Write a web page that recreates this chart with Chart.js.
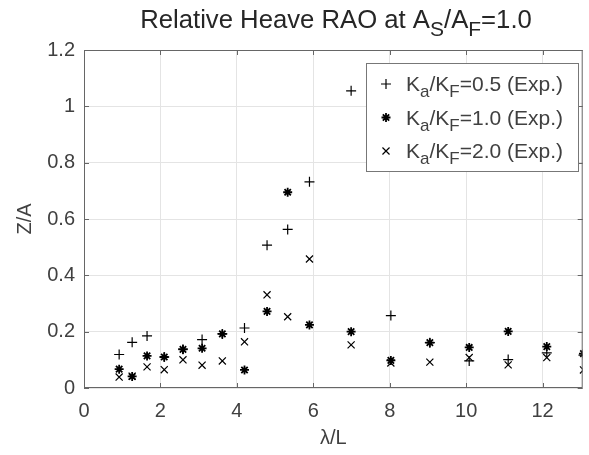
<!DOCTYPE html>
<html>
<head>
<meta charset="utf-8">
<script src="https://cdn.jsdelivr.net/npm/chart.js@4/dist/chart.umd.min.js"></script>
<style>
  html, body { margin: 0; padding: 0; background: #fff; }
  #wrap { width: 589px; height: 455px; }
</style>
</head>
<body>
<div id="wrap"><canvas id="rao" width="589" height="455"></canvas></div>
<script>
// lambda/L for each test point
var waveLength = [0.92, 1.26, 1.65, 2.10, 2.59, 3.09, 3.62, 4.20, 4.79, 5.33, 5.90, 6.99, 8.03, 9.05, 10.08, 11.10, 12.11, 13.07];
// Z/A, Ka/KF = 0.5
var raoK05 = [0.119, 0.162, 0.185, 0.110, 0.138, 0.172, 0.192, 0.213, 0.507, 0.563, 0.732, 1.055, 0.257, 0.161, 0.096, 0.101, 0.125, 0.117];
// Z/A, Ka/KF = 1.0
var raoK10 = [0.067, 0.041, 0.114, 0.110, 0.137, 0.141, 0.192, 0.064, 0.272, 0.695, 0.224, 0.200, 0.098, 0.161, 0.144, 0.201, 0.147, 0.122];
// Z/A, Ka/KF = 2.0
var raoK20 = [0.039, 0.042, 0.075, 0.065, 0.100, 0.081, 0.096, 0.164, 0.331, 0.253, 0.458, 0.153, 0.089, 0.092, 0.108, 0.082, 0.108, 0.064];

var seriesNames = ['0.5', '1.0', '2.0'];
var xMax = 13.05;
var yMax = 1.2;

var FONT = '"Liberation Sans", Arial, sans-serif';
var TEXT = '#404040';

function points(ys) {
	return ys.map(function (y, i) {
		return { x: waveLength[i], y: y };
	});
}

// draws text with subscripts, parts = [[text, isSub], ...]
function richText(ctx, parts, x, y, size, align) {
	var subSize = Math.round(size * 0.8);
	var total = 0;
	parts.forEach(function (p) {
		ctx.font = (p[1] ? subSize : size) + 'px ' + FONT;
		total += ctx.measureText(p[0]).width;
	});
	var cx = align === 'center' ? x - total / 2 : x;
	ctx.textAlign = 'left';
	ctx.textBaseline = 'alphabetic';
	parts.forEach(function (p) {
		ctx.font = (p[1] ? subSize : size) + 'px ' + FONT;
		ctx.fillText(p[0], cx, p[1] ? y + size * 0.3 : y);
		cx += ctx.measureText(p[0]).width;
	});
}

var markerStyles = [
	{ style: 'cross', radius: 5, width: 1.2 },
	{ style: 'star', radius: 4.5, width: 1.8 },
	{ style: 'crossRot', radius: 5, width: 1.2 }
];

var framePlugin = {
	id: 'frame',
	afterDatasetsDraw: function (chart) {
		var ctx = chart.ctx;
		var a = chart.chartArea;
		var xs = chart.scales.x, ys = chart.scales.y;
		ctx.save();
		ctx.strokeStyle = '#666';
		ctx.lineWidth = 1;
		ctx.beginPath();
		// inward tick marks on all four sides
		xs.ticks.forEach(function (t) {
			var px = Math.round(xs.getPixelForValue(t.value)) + 0.5;
			ctx.moveTo(px, a.bottom); ctx.lineTo(px, a.bottom - 5);
			ctx.moveTo(px, a.top); ctx.lineTo(px, a.top + 5);
		});
		ys.ticks.forEach(function (t) {
			var py = Math.round(ys.getPixelForValue(t.value)) + 0.5;
			ctx.moveTo(a.left, py); ctx.lineTo(a.left + 5, py);
			ctx.moveTo(a.right, py); ctx.lineTo(a.right - 5, py);
		});
		ctx.stroke();
		ctx.strokeRect(a.left + 0.5, a.top + 0.5, a.right - a.left - 1, a.bottom - a.top - 1);
		ctx.restore();
	},
	afterDraw: function (chart) {
		var ctx = chart.ctx;
		ctx.save();
		// title
		ctx.fillStyle = '#262626';
		richText(ctx, [['Relative Heave RAO at A', false], ['S', true], ['/A', false], ['F', true], ['=1.0', false]], 336, 28, 25.7, 'center');

		// legend
		var lx = 366, ly = 63, lw = 212, lh = 108;
		ctx.fillStyle = '#fff';
		ctx.fillRect(lx, ly, lw, lh);
		ctx.strokeStyle = '#777';
		ctx.lineWidth = 1;
		ctx.strokeRect(lx + 0.5, ly + 0.5, lw, lh);
		seriesNames.forEach(function (name, i) {
			var rowY = 84 + i * 33.5;
			var m = markerStyles[i];
			ctx.strokeStyle = '#000';
			ctx.fillStyle = '#000';
			ctx.lineWidth = m.width;
			Chart.helpers.drawPoint(ctx, { pointStyle: m.style, rotation: 0, radius: m.radius, borderWidth: m.width }, 386, rowY);
			ctx.fillStyle = TEXT;
			richText(ctx, [['K', false], ['a', true], ['/K', false], ['F', true], ['=' + name + ' (Exp.)', false]], 406, rowY + 7, 21, 'left');
		});
		ctx.restore();
	}
};

function makeSet(label, ys, i) {
	var m = markerStyles[i];
	return {
		label: label,
		data: points(ys),
		pointStyle: m.style,
		pointRadius: m.radius,
		pointHoverRadius: m.radius,
		pointBorderWidth: m.width,
		borderColor: '#000',
		backgroundColor: '#000',
		showLine: false
	};
}

new Chart(document.getElementById('rao').getContext('2d'), {
	type: 'scatter',
	data: {
		datasets: [
			makeSet('Ka/KF=0.5 (Exp.)', raoK05, 0),
			makeSet('Ka/KF=1.0 (Exp.)', raoK10, 1),
			makeSet('Ka/KF=2.0 (Exp.)', raoK20, 2)
		]
	},
	options: {
		responsive: false,
		animation: false,
		layout: { padding: { left: 0, top: 50, right: 6, bottom: 0 } },
		plugins: {
			legend: { display: false },
			title: { display: false },
			tooltip: { enabled: false }
		},
		scales: {
			x: {
				type: 'linear',
				min: 0,
				max: xMax,
				afterFit: function (s) { s.height = 67; },
				border: { display: false },
				grid: { color: '#e4e4e4', drawTicks: false },
				ticks: {
					stepSize: 2,
					includeBounds: false,
					padding: 11,
					color: TEXT,
					font: { family: FONT, size: 20 }
				},
				title: {
					display: true,
					text: 'λ/L',
					color: TEXT,
					font: { family: FONT, size: 20 },
					padding: { top: 0, bottom: 5 }
				}
			},
			y: {
				min: 0,
				max: yMax,
				afterFit: function (s) { s.width = 84; },
				border: { display: false },
				grid: { color: '#e4e4e4', drawTicks: false },
				ticks: {
					stepSize: 0.2,
					padding: 9,
					color: TEXT,
					font: { family: FONT, size: 20 },
					callback: function (v) { return String(+v.toFixed(1)); }
				},
				title: {
					display: true,
					text: 'Z/A',
					color: TEXT,
					font: { family: FONT, size: 20 },
					padding: { top: 13, bottom: 0 }
				}
			}
		}
	},
	plugins: [framePlugin]
});
</script>
</body>
</html>
